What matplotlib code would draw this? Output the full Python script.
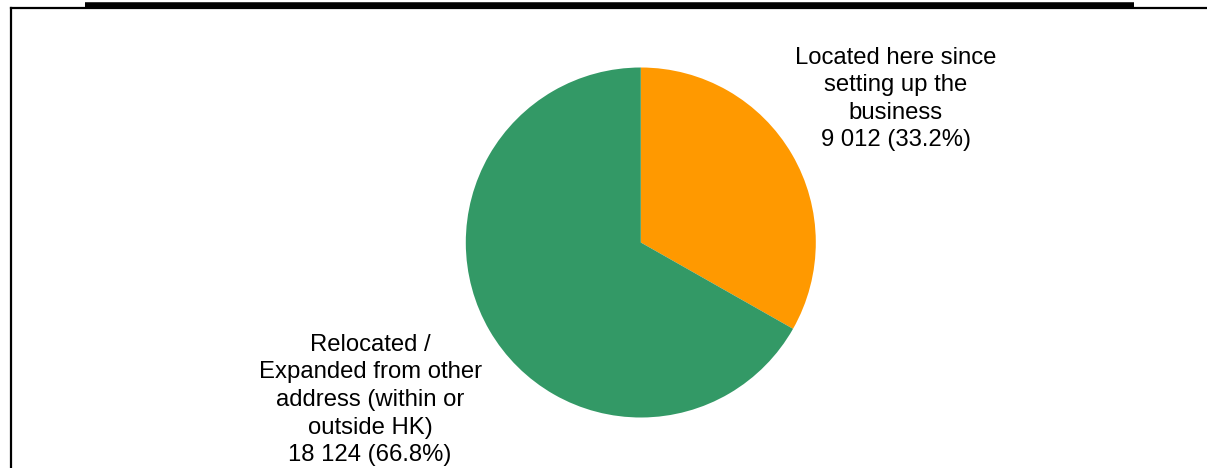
import matplotlib
matplotlib.use("Agg")
import matplotlib.pyplot as plt
from matplotlib.lines import Line2D

# establishments by whether they started at the current address
labels = ["Located here since\nsetting up the\nbusiness",
          "Relocated /\nExpanded from other\naddress (within or\noutside HK)"]
counts = [9012, 18124]
shares = [33.2, 66.8]
colors = ["#FF9900", "#339966"]
label_pos = [(1.458, 0.82), (-1.547, -0.90)]

W, H = 1207, 468
fig = plt.figure(figsize=(W / 100, H / 100), dpi=100)
plt.rcParams['font.family'] = ['Liberation Sans', 'DejaVu Sans']

# pie centred at (641, 242) px, radius 175 px
cx, cy, r = 640.8, 242.5, 175.0
ax = fig.add_axes([(cx - r) / W, (H - cy - r) / H, 2 * r / W, 2 * r / H])
ax.pie(counts, colors=colors, startangle=90, counterclock=False, radius=1.0,
       wedgeprops=dict(linewidth=0))
ax.set_xlim(-1, 1)
ax.set_ylim(-1, 1)
ax.set_aspect('equal')
ax.axis('off')

for lab, n, p, (x, y) in zip(labels, counts, shares, label_pos):
    txt = "{}\n{:,} ({:.1f}%)".format(lab, n, p).replace(",", " ")
    ax.text(x, y, txt, ha='center', va='center', fontsize=17.2,
            linespacing=1.33, clip_on=False)

# chart frame (cut off at right and bottom) and title bar above it
def px(x, y):
    return x / W, 1 - y / H

fig.add_artist(Line2D(*zip(px(11, 7.5), px(W + 5, 7.5)), color='black', lw=1.6))
fig.add_artist(Line2D(*zip(px(11, 7.5), px(11, H + 5)), color='black', lw=1.6))
fig.add_artist(Line2D(*zip(px(85, 5), px(1134, 5)), color='black', lw=4.0,
                      solid_capstyle='butt'))

fig.savefig("out.png", dpi=100)
